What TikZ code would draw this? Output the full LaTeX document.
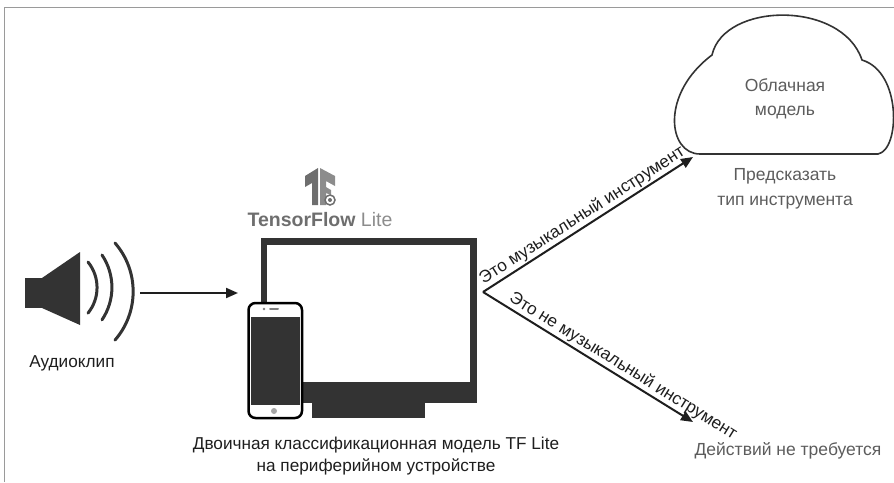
\documentclass[tikz,border=0pt]{standalone}
\usepackage{fontspec}
\setmainfont{Liberation Sans}
\usepackage{tikz}
\usetikzlibrary{arrows.meta}
\definecolor{clipInk}{HTML}{1E1E1E}
\definecolor{softInk}{HTML}{5C5C5C}
\definecolor{iconDark}{HTML}{333333}
\definecolor{frameGray}{HTML}{9A9A9A}
\definecolor{tfDark}{HTML}{6E6E6E}
\definecolor{tfLight}{HTML}{8C8C8C}
\tikzset{
  caption/.style={align=center,font=\fontsize{17.2}{22}\selectfont,text=clipInk,inner sep=0pt},
  note/.style={align=center,font=\fontsize{17.5}{24.5}\selectfont,text=softInk,inner sep=0pt},
  arrow/.style={-{Triangle[length=12pt,width=10pt]},line width=2pt,draw=clipInk},
  flowlabel/.style={font=\fontsize{17.2}{20}\selectfont,text=clipInk,sloped,inner sep=1.5pt},
  wave/.style={line width=3pt,draw=iconDark,line cap=round},
  device/.style={fill=iconDark,draw=none}
}

\begin{document}
\begin{tikzpicture}[x=1pt,y=-1pt]
\useasboundingbox (0,0) rectangle (894,482);
\draw[frameGray,line width=1pt] (4,482) -- (4,7) -- (894,7);

% speaker
\fill[device] (25,278) rectangle (42,308);
\fill[device] (42,278) -- (80,252) -- (80,325) -- (42,308) -- cycle;
\draw[wave] (88,262) arc[start angle=-39,end angle=39,radius=40.6];
\draw[wave] (102,255) arc[start angle=-34,end angle=34,radius=58];
\draw[wave] (115,243) arc[start angle=-41,end angle=41,radius=74];
\node[caption] (clip) at (72,363) {Аудиоклип};

% monitor and phone
\fill[device] (261,238) rectangle (477,403);
\fill[white] (267,245) rectangle (470,382);
\fill[device] (312,403) rectangle (425,418);
\draw[line width=2.5pt,draw=black,fill=white,rounded corners=7pt] (248.5,303) rectangle (302,418);
\fill[device] (250.5,317) rectangle (300,405);
\fill[gray] (264,309) circle (1.4);
\draw[gray,line width=2pt,line cap=round] (270,309) -- (278,309);
\fill[gray!70] (274,411) circle (3);
\node[caption] (model) at (376,456) {Двоичная классификационная модель TF Lite\\на периферийном устройстве};

% tf lite logo
\fill[tfDark] (305,176) -- (318,168) -- (318,205) -- (312,205) -- (312,183) -- (305,187) -- cycle;
\fill[tfLight] (320,168) -- (335,176) -- (335,186) -- (326,181) -- (326,187) -- (331,190)
  -- (331,195) -- (326,193) -- (326,205) -- (320,205) -- cycle;
\draw[tfDark,fill=white,line width=1.5pt] (330,200) circle (5);
\fill[tfDark] (330,200) circle (2);
\node[inner sep=0pt,font=\fontsize{19.5}{22}\selectfont] (tflite) at (320,220)
  {\textcolor{tfDark}{\bfseries TensorFlow} \textcolor{tfLight}{Lite}};

% cloud
\draw[line width=1.6pt,draw=iconDark,fill=white] (700,154)
  .. controls (668,154) and (660,94) .. (712,55)
  .. controls (724,2) and (842,0) .. (862,60)
  .. controls (902,72) and (900,150) .. (878,154) -- cycle;
\node[note] (cloud) at (785,99) {Облачная\\модель};
\node[note] (predict) at (785,189) {Предсказать\\тип инструмента};
\node[note] (noaction) at (788,451) {Действий не требуется};

% connectors
\coordinate (clipOut) at (140,293);
\coordinate (deviceIn) at (238,293);
\coordinate (fork) at (483,292);
\coordinate (cloudIn) at (693,157);
\coordinate (noneIn) at (693,422);
\draw[arrow] (clipOut) -- (deviceIn);
\draw[arrow] (fork) -- node[flowlabel,above,pos=0.5] {Это музыкальный инструмент} (cloudIn);
\draw[arrow] (fork) -- node[flowlabel,above,pos=0.64] {Это не музыкальный инструмент} (noneIn);
\end{tikzpicture}
\end{document}
